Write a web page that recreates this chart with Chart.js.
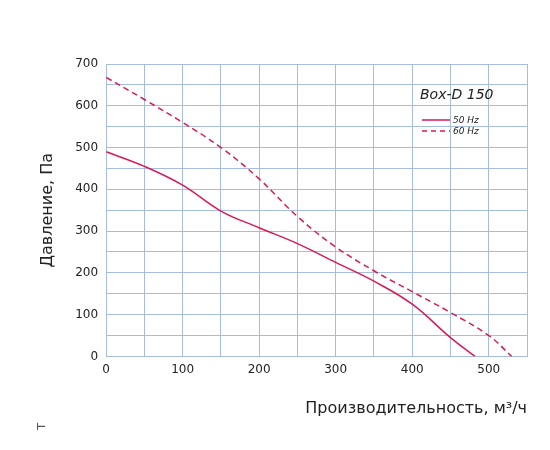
<!DOCTYPE html>
<html><head><meta charset="utf-8">
<script src="https://cdn.jsdelivr.net/npm/chart.js@4"></script>
<style>body{margin:0;background:#fff}#w{width:550px;height:450px}</style>
</head><body><div id="w"><canvas id="c"></canvas></div>
<script>
const flow50 = [0, 50, 100, 150, 200, 250, 300, 350, 400, 450, 482];
const pres50 = [490, 455, 410, 348, 308, 270, 225, 180, 125, 45, 0];
const flow60 = [0, 50, 100, 150, 200, 250, 300, 350, 400, 450, 500, 530];
const pres60 = [668, 615, 560, 500, 425, 335, 262, 205, 155, 105, 50, 0];
const seriesLabels = ["50 Hz", "60 Hz"];
const modelName = "Box-D 150";

const red = "#d8195a";
const grid = "#a7bddf";

// заголовок модели и легенда
const notes = {
    id: "notes",
    afterDraw(chart) {
        const ctx = chart.ctx;
        ctx.save();
        ctx.fillStyle = "#222";
        ctx.font = "italic 14px 'DejaVu Sans'";
        ctx.fillText(modelName, 420, 99);
        ctx.strokeStyle = red;
        ctx.lineWidth = 1.5;
        ctx.beginPath(); ctx.moveTo(422, 120); ctx.lineTo(450, 120); ctx.stroke();
        ctx.setLineDash([5, 4]);
        ctx.beginPath(); ctx.moveTo(422, 131); ctx.lineTo(450, 131); ctx.stroke();
        ctx.setLineDash([]);
        ctx.font = "italic 9px 'DejaVu Sans'";
        ctx.fillText(seriesLabels[0], 453, 123);
        ctx.fillText(seriesLabels[1], 453, 134);
        ctx.beginPath(); ctx.rect(30, 414, 20, 16); ctx.clip();
        ctx.translate(45, 428);
        ctx.rotate(-Math.PI / 2);
        ctx.font = "14px 'DejaVu Sans'";
        ctx.fillStyle = "#555";
        ctx.fillText("Вт", -12, 0);
        ctx.restore();
    }
};

new Chart(document.getElementById("c"), {
    type: "line",
    data: {
        datasets: [{
            label: seriesLabels[0],
            data: flow50.map((x, i) => ({x, y: pres50[i]})),
            borderColor: red,
            borderWidth: 1.5,
            pointRadius: 0,
            tension: 0.4,
            fill: false
        }, {
            label: seriesLabels[1],
            data: flow60.map((x, i) => ({x, y: pres60[i]})),
            borderColor: red,
            borderWidth: 1.5,
            borderDash: [6, 4],
            pointRadius: 0,
            tension: 0.4,
            fill: false
        }]
    },
    options: {
        responsive: true,
        maintainAspectRatio: false,
        animation: false,
        layout: {padding: {left: 34, right: 23, top: 64, bottom: 28}},
        plugins: {legend: {display: false}, tooltip: {enabled: false}},
        scales: {
            x: {
                type: "linear", min: 0, max: 550,
                grid: {color: grid, drawTicks: false},
                border: {color: grid},
                afterBuildTicks(s) { s.ticks = []; for (let v = 0; v <= 550; v += 50) s.ticks.push({value: v}); },
                ticks: {
                    color: "#222", font: {size: 12, family: "'DejaVu Sans'"}, padding: 6,
                    callback: v => (v % 100 === 0 && v <= 500) ? v : ""
                },
                title: {display: true, text: "Производительность, м³/ч", color: "#222",
                    font: {size: 16, family: "'DejaVu Sans'"}, align: "end", padding: {top: 16}}
            },
            y: {
                min: 0, max: 700,
                grid: {color: grid, drawTicks: false},
                border: {color: grid},
                afterBuildTicks(s) { s.ticks = []; for (let v = 0; v <= 700; v += 50) s.ticks.push({value: v}); },
                ticks: {
                    color: "#222", font: {size: 12, family: "'DejaVu Sans'"}, padding: 8,
                    callback: v => v % 100 === 0 ? v : ""
                },
                title: {display: true, text: "Давление, Па", color: "#222",
                    font: {size: 16, family: "'DejaVu Sans'"}, padding: {bottom: 10}}
            }
        }
    },
    plugins: [notes]
});
</script>
</body></html>
